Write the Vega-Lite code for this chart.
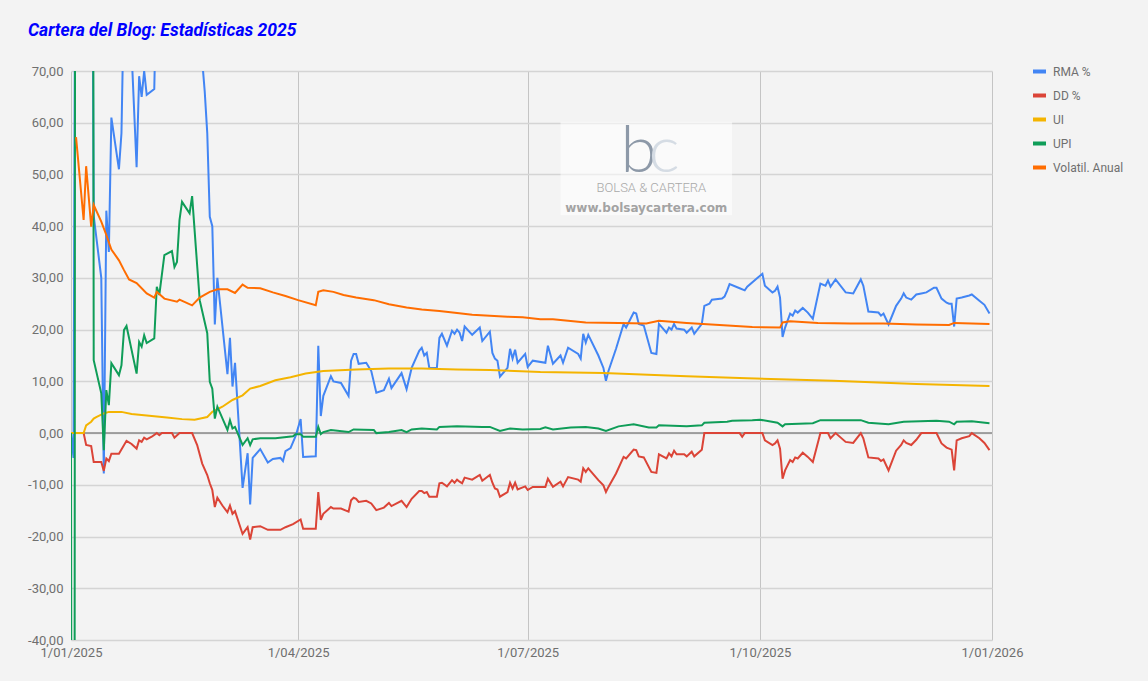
{
  "$schema": "https://vega.github.io/schema/vega-lite/v6.json",
  "description": "Cartera del Blog: Estadísticas 2025",
  "width": 921,
  "height": 569,
  "autosize": "none",
  "padding": {"left": 71, "top": 71, "right": 156, "bottom": 41},
  "background": "#f3f3f3",
  "title": {
    "text": "Cartera del Blog: Estadísticas 2025",
    "anchor": "start", "frame": "group", "dx": -43, "dy": 24, "offset": 34, "baseline": "alphabetic",
    "font": "Roboto", "fontSize": 17.5, "fontWeight": "bold", "fontStyle": "italic", "color": "#0000ff"
  },
  "config": {
    "view": {"stroke": null},
    "font": "Roboto",
    "axisX": {
      "domain": false, "ticks": false, "grid": true, "gridColor": "#c4c4c4", "gridWidth": 1,
      "labelFont": "Roboto", "labelFontSize": 13, "labelColor": "#6f6f6f", "labelPadding": 6,
      "labelFlush": false, "labelOverlap": false, "labelBound": false, "labelAlign": "center", "title": null
    },
    "axisY": {
      "domain": false, "ticks": false, "grid": true, "gridColor": "#d4d4d4", "gridWidth": 1.5,
      "labelFont": "Roboto", "labelFontSize": 13, "labelColor": "#6f6f6f", "labelPadding": 8, "title": null
    }
  },
  "layer": [
    {
      "data": {"values": [{"valor": 0}]},
      "mark": {"type": "rule", "color": "#8a8a8a", "strokeWidth": 1.5},
      "encoding": {
        "y": {"field": "valor", "type": "quantitative", "title": null}
      }
    },
    {
      "data": {"name": "series"},
      "mark": {"type": "line", "strokeWidth": 2, "clip": true},
      "encoding": {
        "x": {
          "field": "fecha", "type": "temporal", "title": null,
          "scale": {"type": "utc", "nice": false, "domain": [{"year": 2025, "month": 1, "date": 1, "utc": true}, {"year": 2026, "month": 1, "date": 1, "utc": true}]},
          "axis": {
            "values": [
              {"year": 2025, "month": 1, "date": 1, "utc": true},
              {"year": 2025, "month": 4, "date": 1, "utc": true},
              {"year": 2025, "month": 7, "date": 1, "utc": true},
              {"year": 2025, "month": 10, "date": 1, "utc": true},
              {"year": 2026, "month": 1, "date": 1, "utc": true}
            ],
            "labelExpr": "utcdate(datum.value) + '/' + (utcmonth(datum.value) < 9 ? '0' : '') + (utcmonth(datum.value) + 1) + '/' + utcyear(datum.value)"
          }
        },
        "y": {
          "field": "valor", "type": "quantitative", "title": null,
          "scale": {"domain": [-40, 70], "nice": false, "zero": false},
          "axis": {
            "values": [-40, -30, -20, -10, 0, 10, 20, 30, 40, 50, 60, 70],
            "labelExpr": "(datum.value < 0 ? '-' : '') + replace(format(abs(datum.value), '.2f'), '.', ',')"
          }
        },
        "color": {
          "field": "serie", "type": "nominal",
          "scale": {
            "domain": ["RMA %", "DD %", "UI", "UPI", "Volatil. Anual"],
            "range": ["#4285f4", "#db4437", "#f4b400", "#0f9d58", "#ff6d01"]
          },
          "legend": {
            "title": null, "orient": "none", "legendX": 960, "legendY": -8, "padding": 0,
            "symbolType": "stroke", "symbolStrokeWidth": 4, "symbolSize": 169,
            "labelFont": "Roboto", "labelFontSize": 12, "labelColor": "#6f6f6f",
            "labelOffset": 5, "rowPadding": 7
          }
        },
        "order": {"field": "fecha", "type": "temporal"}
      }
    },
    {
      "data": {"values": [{"desde": "2025-07-14", "hasta": "2025-09-20", "arriba": 60.2, "abajo": 42.1}]},
      "mark": {"type": "rect", "fill": "#ffffff", "opacity": 0.55},
      "encoding": {
        "x": {"field": "desde", "type": "temporal", "scale": {"type": "utc"}, "title": null},
        "x2": {"field": "hasta"},
        "y": {"field": "arriba", "type": "quantitative", "title": null},
        "y2": {"field": "abajo"}
      }
    },
    {
      "data": {"values": [{"fecha": "2025-08-14", "valor": 50.5, "texto": "b"}]},
      "mark": {"type": "text", "font": "Lato", "fontWeight": 300, "fontSize": 66, "color": "#8d99a8", "align": "center", "baseline": "alphabetic"},
      "encoding": {
        "x": {"field": "fecha", "type": "temporal", "scale": {"type": "utc"}, "title": null},
        "y": {"field": "valor", "type": "quantitative", "title": null},
        "text": {"field": "texto"}
      }
    },
    {
      "data": {"values": [{"fecha": "2025-08-24", "valor": 50.5, "texto": "c"}]},
      "mark": {"type": "text", "font": "Lato", "fontWeight": 300, "fontSize": 66, "color": "#d5dce4", "align": "center", "baseline": "alphabetic"},
      "encoding": {
        "x": {"field": "fecha", "type": "temporal", "scale": {"type": "utc"}, "title": null},
        "y": {"field": "valor", "type": "quantitative", "title": null},
        "text": {"field": "texto"}
      }
    },
    {
      "data": {"values": [{"fecha": "2025-08-19", "valor": 46.6, "texto": "BOLSA & CARTERA"}]},
      "mark": {"type": "text", "font": "Roboto", "fontWeight": 300, "fontSize": 13, "color": "#a9a9a9", "align": "center", "baseline": "alphabetic"},
      "encoding": {
        "x": {"field": "fecha", "type": "temporal", "scale": {"type": "utc"}, "title": null},
        "y": {"field": "valor", "type": "quantitative", "title": null},
        "text": {"field": "texto"}
      }
    },
    {
      "data": {"values": [{"fecha": "2025-08-17", "valor": 42.8, "texto": "www.bolsaycartera.com"}]},
      "mark": {"type": "text", "font": "DejaVu Sans", "fontWeight": "bold", "fontSize": 12, "color": "#a3a3a3", "align": "center", "baseline": "alphabetic"},
      "encoding": {
        "x": {"field": "fecha", "type": "temporal", "scale": {"type": "utc"}, "title": null},
        "y": {"field": "valor", "type": "quantitative", "title": null},
        "text": {"field": "texto"}
      }
    }
  ],
  "datasets": {
    "series": [
      {"fecha": "2025-01-01", "serie": "RMA %", "valor": 0},
      {"fecha": "2025-01-02", "serie": "RMA %", "valor": -4.8},
      {"fecha": "2025-01-03", "serie": "RMA %", "valor": 150},
      {"fecha": "2025-01-09", "serie": "RMA %", "valor": 150},
      {"fecha": "2025-01-10", "serie": "RMA %", "valor": 42},
      {"fecha": "2025-01-13", "serie": "RMA %", "valor": 30},
      {"fecha": "2025-01-14", "serie": "RMA %", "valor": -7.8},
      {"fecha": "2025-01-15", "serie": "RMA %", "valor": 43},
      {"fecha": "2025-01-16", "serie": "RMA %", "valor": 35},
      {"fecha": "2025-01-17", "serie": "RMA %", "valor": 61},
      {"fecha": "2025-01-20", "serie": "RMA %", "valor": 51},
      {"fecha": "2025-01-21", "serie": "RMA %", "valor": 58},
      {"fecha": "2025-01-22", "serie": "RMA %", "valor": 85},
      {"fecha": "2025-01-24", "serie": "RMA %", "valor": 85},
      {"fecha": "2025-01-27", "serie": "RMA %", "valor": 51.4},
      {"fecha": "2025-01-28", "serie": "RMA %", "valor": 69},
      {"fecha": "2025-01-29", "serie": "RMA %", "valor": 65},
      {"fecha": "2025-01-30", "serie": "RMA %", "valor": 70},
      {"fecha": "2025-01-31", "serie": "RMA %", "valor": 65.4},
      {"fecha": "2025-02-03", "serie": "RMA %", "valor": 66.5},
      {"fecha": "2025-02-04", "serie": "RMA %", "valor": 90},
      {"fecha": "2025-02-21", "serie": "RMA %", "valor": 90},
      {"fecha": "2025-02-22", "serie": "RMA %", "valor": 72},
      {"fecha": "2025-02-23", "serie": "RMA %", "valor": 66},
      {"fecha": "2025-02-24", "serie": "RMA %", "valor": 58},
      {"fecha": "2025-02-25", "serie": "RMA %", "valor": 41.8},
      {"fecha": "2025-02-26", "serie": "RMA %", "valor": 40},
      {"fecha": "2025-02-27", "serie": "RMA %", "valor": 21},
      {"fecha": "2025-02-28", "serie": "RMA %", "valor": 30},
      {"fecha": "2025-03-04", "serie": "RMA %", "valor": 11.4},
      {"fecha": "2025-03-05", "serie": "RMA %", "valor": 18.4},
      {"fecha": "2025-03-06", "serie": "RMA %", "valor": 9},
      {"fecha": "2025-03-07", "serie": "RMA %", "valor": 13.6},
      {"fecha": "2025-03-10", "serie": "RMA %", "valor": -10.6},
      {"fecha": "2025-03-12", "serie": "RMA %", "valor": -3.9},
      {"fecha": "2025-03-13", "serie": "RMA %", "valor": -13.8},
      {"fecha": "2025-03-14", "serie": "RMA %", "valor": -4.8},
      {"fecha": "2025-03-17", "serie": "RMA %", "valor": -3.1},
      {"fecha": "2025-03-20", "serie": "RMA %", "valor": -5.7},
      {"fecha": "2025-03-22", "serie": "RMA %", "valor": -5},
      {"fecha": "2025-03-25", "serie": "RMA %", "valor": -4.8},
      {"fecha": "2025-03-26", "serie": "RMA %", "valor": -5.4},
      {"fecha": "2025-03-27", "serie": "RMA %", "valor": -3.5},
      {"fecha": "2025-03-29", "serie": "RMA %", "valor": -2.9},
      {"fecha": "2025-03-31", "serie": "RMA %", "valor": -0.6},
      {"fecha": "2025-04-02", "serie": "RMA %", "valor": 2.7},
      {"fecha": "2025-04-03", "serie": "RMA %", "valor": -4.6},
      {"fecha": "2025-04-08", "serie": "RMA %", "valor": -4.5},
      {"fecha": "2025-04-09", "serie": "RMA %", "valor": 16.9},
      {"fecha": "2025-04-10", "serie": "RMA %", "valor": 3.3},
      {"fecha": "2025-04-11", "serie": "RMA %", "valor": 7.2},
      {"fecha": "2025-04-14", "serie": "RMA %", "valor": 11},
      {"fecha": "2025-04-15", "serie": "RMA %", "valor": 10},
      {"fecha": "2025-04-18", "serie": "RMA %", "valor": 9.7},
      {"fecha": "2025-04-21", "serie": "RMA %", "valor": 7.2},
      {"fecha": "2025-04-22", "serie": "RMA %", "valor": 14},
      {"fecha": "2025-04-23", "serie": "RMA %", "valor": 15.3},
      {"fecha": "2025-04-24", "serie": "RMA %", "valor": 15.3},
      {"fecha": "2025-04-25", "serie": "RMA %", "valor": 13.4},
      {"fecha": "2025-04-28", "serie": "RMA %", "valor": 13.6},
      {"fecha": "2025-04-30", "serie": "RMA %", "valor": 12},
      {"fecha": "2025-05-02", "serie": "RMA %", "valor": 7.8},
      {"fecha": "2025-05-05", "serie": "RMA %", "valor": 8.3},
      {"fecha": "2025-05-07", "serie": "RMA %", "valor": 10.5},
      {"fecha": "2025-05-08", "serie": "RMA %", "valor": 8.7},
      {"fecha": "2025-05-12", "serie": "RMA %", "valor": 11.6},
      {"fecha": "2025-05-14", "serie": "RMA %", "valor": 8.5},
      {"fecha": "2025-05-16", "serie": "RMA %", "valor": 12.6},
      {"fecha": "2025-05-19", "serie": "RMA %", "valor": 15.9},
      {"fecha": "2025-05-20", "serie": "RMA %", "valor": 16.5},
      {"fecha": "2025-05-21", "serie": "RMA %", "valor": 15},
      {"fecha": "2025-05-22", "serie": "RMA %", "valor": 15.5},
      {"fecha": "2025-05-23", "serie": "RMA %", "valor": 12.6},
      {"fecha": "2025-05-26", "serie": "RMA %", "valor": 12.6},
      {"fecha": "2025-05-27", "serie": "RMA %", "valor": 18.4},
      {"fecha": "2025-05-28", "serie": "RMA %", "valor": 19.2},
      {"fecha": "2025-05-30", "serie": "RMA %", "valor": 16.9},
      {"fecha": "2025-06-01", "serie": "RMA %", "valor": 19.8},
      {"fecha": "2025-06-02", "serie": "RMA %", "valor": 19.2},
      {"fecha": "2025-06-03", "serie": "RMA %", "valor": 20},
      {"fecha": "2025-06-04", "serie": "RMA %", "valor": 19.4},
      {"fecha": "2025-06-05", "serie": "RMA %", "valor": 17.8},
      {"fecha": "2025-06-06", "serie": "RMA %", "valor": 20.6},
      {"fecha": "2025-06-09", "serie": "RMA %", "valor": 19},
      {"fecha": "2025-06-12", "serie": "RMA %", "valor": 20.4},
      {"fecha": "2025-06-13", "serie": "RMA %", "valor": 17.8},
      {"fecha": "2025-06-16", "serie": "RMA %", "valor": 19.6},
      {"fecha": "2025-06-17", "serie": "RMA %", "valor": 15.5},
      {"fecha": "2025-06-18", "serie": "RMA %", "valor": 14.4},
      {"fecha": "2025-06-19", "serie": "RMA %", "valor": 14},
      {"fecha": "2025-06-20", "serie": "RMA %", "valor": 10.9},
      {"fecha": "2025-06-23", "serie": "RMA %", "valor": 12.6},
      {"fecha": "2025-06-24", "serie": "RMA %", "valor": 16.3},
      {"fecha": "2025-06-25", "serie": "RMA %", "valor": 14.4},
      {"fecha": "2025-06-26", "serie": "RMA %", "valor": 16.1},
      {"fecha": "2025-06-27", "serie": "RMA %", "valor": 13.6},
      {"fecha": "2025-06-30", "serie": "RMA %", "valor": 15.3},
      {"fecha": "2025-07-01", "serie": "RMA %", "valor": 12.8},
      {"fecha": "2025-07-03", "serie": "RMA %", "valor": 14},
      {"fecha": "2025-07-08", "serie": "RMA %", "valor": 13.6},
      {"fecha": "2025-07-09", "serie": "RMA %", "valor": 16.9},
      {"fecha": "2025-07-11", "serie": "RMA %", "valor": 13.4},
      {"fecha": "2025-07-14", "serie": "RMA %", "valor": 15},
      {"fecha": "2025-07-15", "serie": "RMA %", "valor": 13.6},
      {"fecha": "2025-07-17", "serie": "RMA %", "valor": 16.5},
      {"fecha": "2025-07-21", "serie": "RMA %", "valor": 15.3},
      {"fecha": "2025-07-22", "serie": "RMA %", "valor": 14.4},
      {"fecha": "2025-07-23", "serie": "RMA %", "valor": 19.2},
      {"fecha": "2025-07-24", "serie": "RMA %", "valor": 17.5},
      {"fecha": "2025-07-25", "serie": "RMA %", "valor": 19},
      {"fecha": "2025-07-29", "serie": "RMA %", "valor": 15},
      {"fecha": "2025-07-31", "serie": "RMA %", "valor": 12.6},
      {"fecha": "2025-08-01", "serie": "RMA %", "valor": 10.1},
      {"fecha": "2025-08-02", "serie": "RMA %", "valor": 12},
      {"fecha": "2025-08-05", "serie": "RMA %", "valor": 16.3},
      {"fecha": "2025-08-08", "serie": "RMA %", "valor": 21.1},
      {"fecha": "2025-08-09", "serie": "RMA %", "valor": 20.4},
      {"fecha": "2025-08-12", "serie": "RMA %", "valor": 23.3},
      {"fecha": "2025-08-13", "serie": "RMA %", "valor": 23.1},
      {"fecha": "2025-08-14", "serie": "RMA %", "valor": 21.1},
      {"fecha": "2025-08-16", "serie": "RMA %", "valor": 20.8},
      {"fecha": "2025-08-19", "serie": "RMA %", "valor": 15.5},
      {"fecha": "2025-08-21", "serie": "RMA %", "valor": 15.3},
      {"fecha": "2025-08-22", "serie": "RMA %", "valor": 21.1},
      {"fecha": "2025-08-25", "serie": "RMA %", "valor": 19.4},
      {"fecha": "2025-08-26", "serie": "RMA %", "valor": 20.4},
      {"fecha": "2025-08-27", "serie": "RMA %", "valor": 20},
      {"fecha": "2025-08-28", "serie": "RMA %", "valor": 21.1},
      {"fecha": "2025-08-29", "serie": "RMA %", "valor": 20.2},
      {"fecha": "2025-09-01", "serie": "RMA %", "valor": 20},
      {"fecha": "2025-09-02", "serie": "RMA %", "valor": 19.4},
      {"fecha": "2025-09-04", "serie": "RMA %", "valor": 20.4},
      {"fecha": "2025-09-05", "serie": "RMA %", "valor": 19.2},
      {"fecha": "2025-09-08", "serie": "RMA %", "valor": 21.1},
      {"fecha": "2025-09-09", "serie": "RMA %", "valor": 24.6},
      {"fecha": "2025-09-11", "serie": "RMA %", "valor": 25},
      {"fecha": "2025-09-12", "serie": "RMA %", "valor": 25.8},
      {"fecha": "2025-09-16", "serie": "RMA %", "valor": 26},
      {"fecha": "2025-09-17", "serie": "RMA %", "valor": 26.4},
      {"fecha": "2025-09-18", "serie": "RMA %", "valor": 27.5},
      {"fecha": "2025-09-19", "serie": "RMA %", "valor": 28.8},
      {"fecha": "2025-09-23", "serie": "RMA %", "valor": 28},
      {"fecha": "2025-09-25", "serie": "RMA %", "valor": 27.6},
      {"fecha": "2025-09-26", "serie": "RMA %", "valor": 28.3},
      {"fecha": "2025-09-30", "serie": "RMA %", "valor": 30},
      {"fecha": "2025-10-02", "serie": "RMA %", "valor": 30.8},
      {"fecha": "2025-10-03", "serie": "RMA %", "valor": 28.5},
      {"fecha": "2025-10-06", "serie": "RMA %", "valor": 27.2},
      {"fecha": "2025-10-07", "serie": "RMA %", "valor": 27.5},
      {"fecha": "2025-10-08", "serie": "RMA %", "valor": 28.3},
      {"fecha": "2025-10-09", "serie": "RMA %", "valor": 26.2},
      {"fecha": "2025-10-10", "serie": "RMA %", "valor": 18.6},
      {"fecha": "2025-10-11", "serie": "RMA %", "valor": 20.4},
      {"fecha": "2025-10-13", "serie": "RMA %", "valor": 23.1},
      {"fecha": "2025-10-14", "serie": "RMA %", "valor": 22.7},
      {"fecha": "2025-10-15", "serie": "RMA %", "valor": 23.7},
      {"fecha": "2025-10-16", "serie": "RMA %", "valor": 23.3},
      {"fecha": "2025-10-18", "serie": "RMA %", "valor": 24.2},
      {"fecha": "2025-10-20", "serie": "RMA %", "valor": 23.3},
      {"fecha": "2025-10-22", "serie": "RMA %", "valor": 22.1},
      {"fecha": "2025-10-25", "serie": "RMA %", "valor": 28.9},
      {"fecha": "2025-10-27", "serie": "RMA %", "valor": 28.5},
      {"fecha": "2025-10-28", "serie": "RMA %", "valor": 29.5},
      {"fecha": "2025-10-29", "serie": "RMA %", "valor": 28.3},
      {"fecha": "2025-10-31", "serie": "RMA %", "valor": 29.7},
      {"fecha": "2025-11-04", "serie": "RMA %", "valor": 27.2},
      {"fecha": "2025-11-07", "serie": "RMA %", "valor": 27},
      {"fecha": "2025-11-10", "serie": "RMA %", "valor": 29.7},
      {"fecha": "2025-11-11", "serie": "RMA %", "valor": 28.5},
      {"fecha": "2025-11-13", "serie": "RMA %", "valor": 23.5},
      {"fecha": "2025-11-17", "serie": "RMA %", "valor": 23.3},
      {"fecha": "2025-11-18", "serie": "RMA %", "valor": 22.7},
      {"fecha": "2025-11-19", "serie": "RMA %", "valor": 23.1},
      {"fecha": "2025-11-21", "serie": "RMA %", "valor": 21},
      {"fecha": "2025-11-24", "serie": "RMA %", "valor": 24.6},
      {"fecha": "2025-11-26", "serie": "RMA %", "valor": 26},
      {"fecha": "2025-11-27", "serie": "RMA %", "valor": 27},
      {"fecha": "2025-11-28", "serie": "RMA %", "valor": 26.2},
      {"fecha": "2025-11-30", "serie": "RMA %", "valor": 25.8},
      {"fecha": "2025-12-02", "serie": "RMA %", "valor": 26.8},
      {"fecha": "2025-12-04", "serie": "RMA %", "valor": 27},
      {"fecha": "2025-12-06", "serie": "RMA %", "valor": 27.2},
      {"fecha": "2025-12-09", "serie": "RMA %", "valor": 28.1},
      {"fecha": "2025-12-10", "serie": "RMA %", "valor": 28.1},
      {"fecha": "2025-12-12", "serie": "RMA %", "valor": 26},
      {"fecha": "2025-12-14", "serie": "RMA %", "valor": 25.2},
      {"fecha": "2025-12-15", "serie": "RMA %", "valor": 25},
      {"fecha": "2025-12-16", "serie": "RMA %", "valor": 25},
      {"fecha": "2025-12-17", "serie": "RMA %", "valor": 20.6},
      {"fecha": "2025-12-18", "serie": "RMA %", "valor": 26},
      {"fecha": "2025-12-20", "serie": "RMA %", "valor": 26.2},
      {"fecha": "2025-12-23", "serie": "RMA %", "valor": 26.6},
      {"fecha": "2025-12-24", "serie": "RMA %", "valor": 26.8},
      {"fecha": "2025-12-27", "serie": "RMA %", "valor": 25.6},
      {"fecha": "2025-12-29", "serie": "RMA %", "valor": 24.8},
      {"fecha": "2025-12-31", "serie": "RMA %", "valor": 23.1},

      {"fecha": "2025-01-01", "serie": "DD %", "valor": 0},
      {"fecha": "2025-01-06", "serie": "DD %", "valor": 0},
      {"fecha": "2025-01-07", "serie": "DD %", "valor": -2.3},
      {"fecha": "2025-01-09", "serie": "DD %", "valor": -2.5},
      {"fecha": "2025-01-10", "serie": "DD %", "valor": -5.6},
      {"fecha": "2025-01-13", "serie": "DD %", "valor": -5.6},
      {"fecha": "2025-01-14", "serie": "DD %", "valor": -7.3},
      {"fecha": "2025-01-15", "serie": "DD %", "valor": -4.9},
      {"fecha": "2025-01-16", "serie": "DD %", "valor": -5.4},
      {"fecha": "2025-01-17", "serie": "DD %", "valor": -4},
      {"fecha": "2025-01-20", "serie": "DD %", "valor": -4},
      {"fecha": "2025-01-23", "serie": "DD %", "valor": -1.5},
      {"fecha": "2025-01-25", "serie": "DD %", "valor": -2.1},
      {"fecha": "2025-01-27", "serie": "DD %", "valor": -3},
      {"fecha": "2025-01-28", "serie": "DD %", "valor": -1.4},
      {"fecha": "2025-01-29", "serie": "DD %", "valor": -1.7},
      {"fecha": "2025-01-30", "serie": "DD %", "valor": -0.9},
      {"fecha": "2025-01-31", "serie": "DD %", "valor": -1.2},
      {"fecha": "2025-02-02", "serie": "DD %", "valor": -0.7},
      {"fecha": "2025-02-04", "serie": "DD %", "valor": 0},
      {"fecha": "2025-02-05", "serie": "DD %", "valor": -0.4},
      {"fecha": "2025-02-06", "serie": "DD %", "valor": 0},
      {"fecha": "2025-02-10", "serie": "DD %", "valor": 0},
      {"fecha": "2025-02-11", "serie": "DD %", "valor": -0.9},
      {"fecha": "2025-02-13", "serie": "DD %", "valor": 0},
      {"fecha": "2025-02-18", "serie": "DD %", "valor": 0},
      {"fecha": "2025-02-20", "serie": "DD %", "valor": -2.3},
      {"fecha": "2025-02-22", "serie": "DD %", "valor": -5.9},
      {"fecha": "2025-02-24", "serie": "DD %", "valor": -8.1},
      {"fecha": "2025-02-25", "serie": "DD %", "valor": -9.7},
      {"fecha": "2025-02-26", "serie": "DD %", "valor": -11},
      {"fecha": "2025-02-27", "serie": "DD %", "valor": -14.3},
      {"fecha": "2025-02-28", "serie": "DD %", "valor": -12.5},
      {"fecha": "2025-03-02", "serie": "DD %", "valor": -14},
      {"fecha": "2025-03-04", "serie": "DD %", "valor": -15.3},
      {"fecha": "2025-03-05", "serie": "DD %", "valor": -14},
      {"fecha": "2025-03-06", "serie": "DD %", "valor": -15.6},
      {"fecha": "2025-03-07", "serie": "DD %", "valor": -15.1},
      {"fecha": "2025-03-10", "serie": "DD %", "valor": -19.5},
      {"fecha": "2025-03-12", "serie": "DD %", "valor": -18.2},
      {"fecha": "2025-03-13", "serie": "DD %", "valor": -20.6},
      {"fecha": "2025-03-14", "serie": "DD %", "valor": -18.2},
      {"fecha": "2025-03-17", "serie": "DD %", "valor": -18},
      {"fecha": "2025-03-20", "serie": "DD %", "valor": -18.7},
      {"fecha": "2025-03-25", "serie": "DD %", "valor": -18.7},
      {"fecha": "2025-03-27", "serie": "DD %", "valor": -18.2},
      {"fecha": "2025-03-30", "serie": "DD %", "valor": -17.6},
      {"fecha": "2025-04-02", "serie": "DD %", "valor": -16.7},
      {"fecha": "2025-04-03", "serie": "DD %", "valor": -18.5},
      {"fecha": "2025-04-08", "serie": "DD %", "valor": -18.5},
      {"fecha": "2025-04-09", "serie": "DD %", "valor": -11.4},
      {"fecha": "2025-04-10", "serie": "DD %", "valor": -16.8},
      {"fecha": "2025-04-11", "serie": "DD %", "valor": -15.6},
      {"fecha": "2025-04-14", "serie": "DD %", "valor": -14.3},
      {"fecha": "2025-04-15", "serie": "DD %", "valor": -14.6},
      {"fecha": "2025-04-18", "serie": "DD %", "valor": -14.6},
      {"fecha": "2025-04-21", "serie": "DD %", "valor": -15.2},
      {"fecha": "2025-04-22", "serie": "DD %", "valor": -13},
      {"fecha": "2025-04-23", "serie": "DD %", "valor": -12.5},
      {"fecha": "2025-04-24", "serie": "DD %", "valor": -12.7},
      {"fecha": "2025-04-25", "serie": "DD %", "valor": -13.3},
      {"fecha": "2025-04-28", "serie": "DD %", "valor": -13.1},
      {"fecha": "2025-04-30", "serie": "DD %", "valor": -13.6},
      {"fecha": "2025-05-02", "serie": "DD %", "valor": -14.9},
      {"fecha": "2025-05-05", "serie": "DD %", "valor": -14.4},
      {"fecha": "2025-05-07", "serie": "DD %", "valor": -13.5},
      {"fecha": "2025-05-08", "serie": "DD %", "valor": -14.1},
      {"fecha": "2025-05-12", "serie": "DD %", "valor": -13.1},
      {"fecha": "2025-05-14", "serie": "DD %", "valor": -14.3},
      {"fecha": "2025-05-16", "serie": "DD %", "valor": -12.7},
      {"fecha": "2025-05-19", "serie": "DD %", "valor": -11.2},
      {"fecha": "2025-05-20", "serie": "DD %", "valor": -11.2},
      {"fecha": "2025-05-21", "serie": "DD %", "valor": -11.6},
      {"fecha": "2025-05-22", "serie": "DD %", "valor": -11.4},
      {"fecha": "2025-05-23", "serie": "DD %", "valor": -12.3},
      {"fecha": "2025-05-26", "serie": "DD %", "valor": -12.3},
      {"fecha": "2025-05-27", "serie": "DD %", "valor": -9.7},
      {"fecha": "2025-05-28", "serie": "DD %", "valor": -9.6},
      {"fecha": "2025-05-30", "serie": "DD %", "valor": -10.3},
      {"fecha": "2025-06-01", "serie": "DD %", "valor": -9.1},
      {"fecha": "2025-06-02", "serie": "DD %", "valor": -9.6},
      {"fecha": "2025-06-03", "serie": "DD %", "valor": -9},
      {"fecha": "2025-06-04", "serie": "DD %", "valor": -9.4},
      {"fecha": "2025-06-05", "serie": "DD %", "valor": -9.7},
      {"fecha": "2025-06-06", "serie": "DD %", "valor": -8.6},
      {"fecha": "2025-06-09", "serie": "DD %", "valor": -9},
      {"fecha": "2025-06-12", "serie": "DD %", "valor": -8.1},
      {"fecha": "2025-06-13", "serie": "DD %", "valor": -9.2},
      {"fecha": "2025-06-16", "serie": "DD %", "valor": -8.1},
      {"fecha": "2025-06-17", "serie": "DD %", "valor": -9.6},
      {"fecha": "2025-06-18", "serie": "DD %", "valor": -10.7},
      {"fecha": "2025-06-19", "serie": "DD %", "valor": -10.9},
      {"fecha": "2025-06-20", "serie": "DD %", "valor": -12.3},
      {"fecha": "2025-06-23", "serie": "DD %", "valor": -11.4},
      {"fecha": "2025-06-24", "serie": "DD %", "valor": -9.6},
      {"fecha": "2025-06-25", "serie": "DD %", "valor": -10.7},
      {"fecha": "2025-06-26", "serie": "DD %", "valor": -9.6},
      {"fecha": "2025-06-27", "serie": "DD %", "valor": -10.9},
      {"fecha": "2025-06-30", "serie": "DD %", "valor": -10.3},
      {"fecha": "2025-07-01", "serie": "DD %", "valor": -11},
      {"fecha": "2025-07-03", "serie": "DD %", "valor": -10.4},
      {"fecha": "2025-07-08", "serie": "DD %", "valor": -10.4},
      {"fecha": "2025-07-09", "serie": "DD %", "valor": -8.8},
      {"fecha": "2025-07-11", "serie": "DD %", "valor": -10.4},
      {"fecha": "2025-07-14", "serie": "DD %", "valor": -9.4},
      {"fecha": "2025-07-15", "serie": "DD %", "valor": -10.3},
      {"fecha": "2025-07-17", "serie": "DD %", "valor": -8.5},
      {"fecha": "2025-07-21", "serie": "DD %", "valor": -9},
      {"fecha": "2025-07-22", "serie": "DD %", "valor": -9.4},
      {"fecha": "2025-07-23", "serie": "DD %", "valor": -6.8},
      {"fecha": "2025-07-24", "serie": "DD %", "valor": -7.5},
      {"fecha": "2025-07-25", "serie": "DD %", "valor": -6.8},
      {"fecha": "2025-07-29", "serie": "DD %", "valor": -9.1},
      {"fecha": "2025-07-31", "serie": "DD %", "valor": -10.1},
      {"fecha": "2025-08-01", "serie": "DD %", "valor": -11.4},
      {"fecha": "2025-08-02", "serie": "DD %", "valor": -10.4},
      {"fecha": "2025-08-05", "serie": "DD %", "valor": -7.8},
      {"fecha": "2025-08-08", "serie": "DD %", "valor": -4.6},
      {"fecha": "2025-08-09", "serie": "DD %", "valor": -4.9},
      {"fecha": "2025-08-12", "serie": "DD %", "valor": -3.2},
      {"fecha": "2025-08-13", "serie": "DD %", "valor": -3.3},
      {"fecha": "2025-08-14", "serie": "DD %", "valor": -4.5},
      {"fecha": "2025-08-16", "serie": "DD %", "valor": -4.7},
      {"fecha": "2025-08-19", "serie": "DD %", "valor": -7.5},
      {"fecha": "2025-08-21", "serie": "DD %", "valor": -7.7},
      {"fecha": "2025-08-22", "serie": "DD %", "valor": -4.1},
      {"fecha": "2025-08-25", "serie": "DD %", "valor": -4.9},
      {"fecha": "2025-08-26", "serie": "DD %", "valor": -3.9},
      {"fecha": "2025-08-27", "serie": "DD %", "valor": -4.5},
      {"fecha": "2025-08-28", "serie": "DD %", "valor": -3.4},
      {"fecha": "2025-08-29", "serie": "DD %", "valor": -4.1},
      {"fecha": "2025-09-01", "serie": "DD %", "valor": -4.1},
      {"fecha": "2025-09-02", "serie": "DD %", "valor": -4.5},
      {"fecha": "2025-09-04", "serie": "DD %", "valor": -3.6},
      {"fecha": "2025-09-05", "serie": "DD %", "valor": -4.5},
      {"fecha": "2025-09-08", "serie": "DD %", "valor": -3.2},
      {"fecha": "2025-09-09", "serie": "DD %", "valor": 0},
      {"fecha": "2025-09-15", "serie": "DD %", "valor": 0},
      {"fecha": "2025-09-23", "serie": "DD %", "valor": 0},
      {"fecha": "2025-09-24", "serie": "DD %", "valor": -0.7},
      {"fecha": "2025-09-25", "serie": "DD %", "valor": 0},
      {"fecha": "2025-10-02", "serie": "DD %", "valor": 0},
      {"fecha": "2025-10-03", "serie": "DD %", "valor": -1.4},
      {"fecha": "2025-10-06", "serie": "DD %", "valor": -2.3},
      {"fecha": "2025-10-07", "serie": "DD %", "valor": -2},
      {"fecha": "2025-10-08", "serie": "DD %", "valor": -1.4},
      {"fecha": "2025-10-09", "serie": "DD %", "valor": -3},
      {"fecha": "2025-10-10", "serie": "DD %", "valor": -8.8},
      {"fecha": "2025-10-11", "serie": "DD %", "valor": -7.2},
      {"fecha": "2025-10-13", "serie": "DD %", "valor": -5.2},
      {"fecha": "2025-10-14", "serie": "DD %", "valor": -5.6},
      {"fecha": "2025-10-15", "serie": "DD %", "valor": -4.7},
      {"fecha": "2025-10-16", "serie": "DD %", "valor": -4.9},
      {"fecha": "2025-10-18", "serie": "DD %", "valor": -3.8},
      {"fecha": "2025-10-20", "serie": "DD %", "valor": -4.6},
      {"fecha": "2025-10-22", "serie": "DD %", "valor": -5.6},
      {"fecha": "2025-10-25", "serie": "DD %", "valor": 0},
      {"fecha": "2025-10-28", "serie": "DD %", "valor": 0},
      {"fecha": "2025-10-29", "serie": "DD %", "valor": -1},
      {"fecha": "2025-10-31", "serie": "DD %", "valor": 0},
      {"fecha": "2025-11-04", "serie": "DD %", "valor": -1.7},
      {"fecha": "2025-11-07", "serie": "DD %", "valor": -1.9},
      {"fecha": "2025-11-10", "serie": "DD %", "valor": 0},
      {"fecha": "2025-11-11", "serie": "DD %", "valor": -1},
      {"fecha": "2025-11-13", "serie": "DD %", "valor": -4.7},
      {"fecha": "2025-11-17", "serie": "DD %", "valor": -4.9},
      {"fecha": "2025-11-18", "serie": "DD %", "valor": -5.4},
      {"fecha": "2025-11-19", "serie": "DD %", "valor": -5.1},
      {"fecha": "2025-11-21", "serie": "DD %", "valor": -7.2},
      {"fecha": "2025-11-24", "serie": "DD %", "valor": -3.4},
      {"fecha": "2025-11-26", "serie": "DD %", "valor": -2.3},
      {"fecha": "2025-11-27", "serie": "DD %", "valor": -1.4},
      {"fecha": "2025-11-28", "serie": "DD %", "valor": -1.9},
      {"fecha": "2025-11-30", "serie": "DD %", "valor": -2.3},
      {"fecha": "2025-12-02", "serie": "DD %", "valor": -1.3},
      {"fecha": "2025-12-04", "serie": "DD %", "valor": 0},
      {"fecha": "2025-12-10", "serie": "DD %", "valor": 0},
      {"fecha": "2025-12-12", "serie": "DD %", "valor": -2},
      {"fecha": "2025-12-14", "serie": "DD %", "valor": -2.8},
      {"fecha": "2025-12-15", "serie": "DD %", "valor": -3},
      {"fecha": "2025-12-16", "serie": "DD %", "valor": -3.2},
      {"fecha": "2025-12-17", "serie": "DD %", "valor": -7.2},
      {"fecha": "2025-12-18", "serie": "DD %", "valor": -1.4},
      {"fecha": "2025-12-20", "serie": "DD %", "valor": -1},
      {"fecha": "2025-12-23", "serie": "DD %", "valor": -0.6},
      {"fecha": "2025-12-24", "serie": "DD %", "valor": 0},
      {"fecha": "2025-12-27", "serie": "DD %", "valor": -1},
      {"fecha": "2025-12-29", "serie": "DD %", "valor": -1.9},
      {"fecha": "2025-12-31", "serie": "DD %", "valor": -3.3},

      {"fecha": "2025-01-01", "serie": "UI", "valor": 0},
      {"fecha": "2025-01-06", "serie": "UI", "valor": 0},
      {"fecha": "2025-01-07", "serie": "UI", "valor": 1.5},
      {"fecha": "2025-01-09", "serie": "UI", "valor": 2.2},
      {"fecha": "2025-01-10", "serie": "UI", "valor": 2.8},
      {"fecha": "2025-01-11", "serie": "UI", "valor": 3.1},
      {"fecha": "2025-01-14", "serie": "UI", "valor": 3.8},
      {"fecha": "2025-01-16", "serie": "UI", "valor": 4.1},
      {"fecha": "2025-01-21", "serie": "UI", "valor": 4.1},
      {"fecha": "2025-01-25", "serie": "UI", "valor": 3.7},
      {"fecha": "2025-01-31", "serie": "UI", "valor": 3.4},
      {"fecha": "2025-02-08", "serie": "UI", "valor": 3},
      {"fecha": "2025-02-14", "serie": "UI", "valor": 2.7},
      {"fecha": "2025-02-19", "serie": "UI", "valor": 2.6},
      {"fecha": "2025-02-24", "serie": "UI", "valor": 3.1},
      {"fecha": "2025-02-26", "serie": "UI", "valor": 4.1},
      {"fecha": "2025-03-02", "serie": "UI", "valor": 5.1},
      {"fecha": "2025-03-06", "serie": "UI", "valor": 6.4},
      {"fecha": "2025-03-10", "serie": "UI", "valor": 7.3},
      {"fecha": "2025-03-13", "serie": "UI", "valor": 8.6},
      {"fecha": "2025-03-17", "serie": "UI", "valor": 9.1},
      {"fecha": "2025-03-23", "serie": "UI", "valor": 10.2},
      {"fecha": "2025-03-29", "serie": "UI", "valor": 10.8},
      {"fecha": "2025-04-04", "serie": "UI", "valor": 11.5},
      {"fecha": "2025-04-11", "serie": "UI", "valor": 12},
      {"fecha": "2025-04-24", "serie": "UI", "valor": 12.3},
      {"fecha": "2025-05-07", "serie": "UI", "valor": 12.5},
      {"fecha": "2025-05-20", "serie": "UI", "valor": 12.5},
      {"fecha": "2025-06-03", "serie": "UI", "valor": 12.3},
      {"fecha": "2025-06-16", "serie": "UI", "valor": 12.2},
      {"fecha": "2025-07-06", "serie": "UI", "valor": 11.8},
      {"fecha": "2025-07-31", "serie": "UI", "valor": 11.6},
      {"fecha": "2025-09-02", "serie": "UI", "valor": 11},
      {"fecha": "2025-09-26", "serie": "UI", "valor": 10.6},
      {"fecha": "2025-10-30", "serie": "UI", "valor": 10.1},
      {"fecha": "2025-12-02", "serie": "UI", "valor": 9.5},
      {"fecha": "2025-12-31", "serie": "UI", "valor": 9.1},

      {"fecha": "2025-01-01", "serie": "UPI", "valor": 0},
      {"fecha": "2025-01-02", "serie": "UPI", "valor": -400},
      {"fecha": "2025-01-03", "serie": "UPI", "valor": 400},
      {"fecha": "2025-01-09", "serie": "UPI", "valor": 400},
      {"fecha": "2025-01-10", "serie": "UPI", "valor": 14.1},
      {"fecha": "2025-01-13", "serie": "UPI", "valor": 7.7},
      {"fecha": "2025-01-14", "serie": "UPI", "valor": -3.3},
      {"fecha": "2025-01-15", "serie": "UPI", "valor": 8.3},
      {"fecha": "2025-01-16", "serie": "UPI", "valor": 5.4},
      {"fecha": "2025-01-17", "serie": "UPI", "valor": 13.5},
      {"fecha": "2025-01-20", "serie": "UPI", "valor": 11.2},
      {"fecha": "2025-01-21", "serie": "UPI", "valor": 13.1},
      {"fecha": "2025-01-22", "serie": "UPI", "valor": 19.9},
      {"fecha": "2025-01-23", "serie": "UPI", "valor": 20.7},
      {"fecha": "2025-01-27", "serie": "UPI", "valor": 11.5},
      {"fecha": "2025-01-28", "serie": "UPI", "valor": 17.6},
      {"fecha": "2025-01-29", "serie": "UPI", "valor": 16.7},
      {"fecha": "2025-01-30", "serie": "UPI", "valor": 18.9},
      {"fecha": "2025-01-31", "serie": "UPI", "valor": 17.4},
      {"fecha": "2025-02-03", "serie": "UPI", "valor": 18.3},
      {"fecha": "2025-02-04", "serie": "UPI", "valor": 28.3},
      {"fecha": "2025-02-05", "serie": "UPI", "valor": 26.7},
      {"fecha": "2025-02-07", "serie": "UPI", "valor": 34.4},
      {"fecha": "2025-02-10", "serie": "UPI", "valor": 35.2},
      {"fecha": "2025-02-11", "serie": "UPI", "valor": 32.1},
      {"fecha": "2025-02-12", "serie": "UPI", "valor": 33.1},
      {"fecha": "2025-02-13", "serie": "UPI", "valor": 41.2},
      {"fecha": "2025-02-14", "serie": "UPI", "valor": 44.7},
      {"fecha": "2025-02-17", "serie": "UPI", "valor": 42.5},
      {"fecha": "2025-02-18", "serie": "UPI", "valor": 45.8},
      {"fecha": "2025-02-21", "serie": "UPI", "valor": 25.7},
      {"fecha": "2025-02-24", "serie": "UPI", "valor": 19.3},
      {"fecha": "2025-02-25", "serie": "UPI", "valor": 9.9},
      {"fecha": "2025-02-26", "serie": "UPI", "valor": 8.6},
      {"fecha": "2025-02-27", "serie": "UPI", "valor": 2.8},
      {"fecha": "2025-02-28", "serie": "UPI", "valor": 5.1},
      {"fecha": "2025-03-04", "serie": "UPI", "valor": 0.6},
      {"fecha": "2025-03-05", "serie": "UPI", "valor": 2.5},
      {"fecha": "2025-03-06", "serie": "UPI", "valor": 0.9},
      {"fecha": "2025-03-07", "serie": "UPI", "valor": 1.2},
      {"fecha": "2025-03-10", "serie": "UPI", "valor": -2.3},
      {"fecha": "2025-03-12", "serie": "UPI", "valor": -1},
      {"fecha": "2025-03-13", "serie": "UPI", "valor": -2.3},
      {"fecha": "2025-03-14", "serie": "UPI", "valor": -1.2},
      {"fecha": "2025-03-17", "serie": "UPI", "valor": -1},
      {"fecha": "2025-03-23", "serie": "UPI", "valor": -1},
      {"fecha": "2025-03-30", "serie": "UPI", "valor": -0.6},
      {"fecha": "2025-03-31", "serie": "UPI", "valor": -0.2},
      {"fecha": "2025-04-02", "serie": "UPI", "valor": -0.2},
      {"fecha": "2025-04-03", "serie": "UPI", "valor": -0.7},
      {"fecha": "2025-04-08", "serie": "UPI", "valor": -0.7},
      {"fecha": "2025-04-09", "serie": "UPI", "valor": 1.2},
      {"fecha": "2025-04-10", "serie": "UPI", "valor": -0.2},
      {"fecha": "2025-04-11", "serie": "UPI", "valor": 0.2},
      {"fecha": "2025-04-14", "serie": "UPI", "valor": 0.6},
      {"fecha": "2025-04-21", "serie": "UPI", "valor": 0.2},
      {"fecha": "2025-04-23", "serie": "UPI", "valor": 0.7},
      {"fecha": "2025-05-01", "serie": "UPI", "valor": 0.6},
      {"fecha": "2025-05-02", "serie": "UPI", "valor": 0},
      {"fecha": "2025-05-07", "serie": "UPI", "valor": 0.2},
      {"fecha": "2025-05-12", "serie": "UPI", "valor": 0.6},
      {"fecha": "2025-05-14", "serie": "UPI", "valor": 0.2},
      {"fecha": "2025-05-16", "serie": "UPI", "valor": 0.7},
      {"fecha": "2025-05-20", "serie": "UPI", "valor": 0.9},
      {"fecha": "2025-05-26", "serie": "UPI", "valor": 0.7},
      {"fecha": "2025-05-27", "serie": "UPI", "valor": 1.2},
      {"fecha": "2025-06-03", "serie": "UPI", "valor": 1.3},
      {"fecha": "2025-06-13", "serie": "UPI", "valor": 1.2},
      {"fecha": "2025-06-16", "serie": "UPI", "valor": 1.2},
      {"fecha": "2025-06-20", "serie": "UPI", "valor": 0.4},
      {"fecha": "2025-06-24", "serie": "UPI", "valor": 0.9},
      {"fecha": "2025-06-29", "serie": "UPI", "valor": 0.7},
      {"fecha": "2025-07-06", "serie": "UPI", "valor": 0.8},
      {"fecha": "2025-07-08", "serie": "UPI", "valor": 1.1},
      {"fecha": "2025-07-11", "serie": "UPI", "valor": 0.7},
      {"fecha": "2025-07-18", "serie": "UPI", "valor": 1.1},
      {"fecha": "2025-07-24", "serie": "UPI", "valor": 1.2},
      {"fecha": "2025-07-29", "serie": "UPI", "valor": 0.9},
      {"fecha": "2025-08-01", "serie": "UPI", "valor": 0.4},
      {"fecha": "2025-08-06", "serie": "UPI", "valor": 1.3},
      {"fecha": "2025-08-12", "serie": "UPI", "valor": 1.7},
      {"fecha": "2025-08-18", "serie": "UPI", "valor": 1.1},
      {"fecha": "2025-08-21", "serie": "UPI", "valor": 1.1},
      {"fecha": "2025-08-22", "serie": "UPI", "valor": 1.5},
      {"fecha": "2025-09-02", "serie": "UPI", "valor": 1.3},
      {"fecha": "2025-09-08", "serie": "UPI", "valor": 1.5},
      {"fecha": "2025-09-09", "serie": "UPI", "valor": 2},
      {"fecha": "2025-09-18", "serie": "UPI", "valor": 2.2},
      {"fecha": "2025-09-20", "serie": "UPI", "valor": 2.4},
      {"fecha": "2025-09-28", "serie": "UPI", "valor": 2.5},
      {"fecha": "2025-10-01", "serie": "UPI", "valor": 2.6},
      {"fecha": "2025-10-08", "serie": "UPI", "valor": 2},
      {"fecha": "2025-10-10", "serie": "UPI", "valor": 1.3},
      {"fecha": "2025-10-11", "serie": "UPI", "valor": 1.7},
      {"fecha": "2025-10-22", "serie": "UPI", "valor": 1.9},
      {"fecha": "2025-10-25", "serie": "UPI", "valor": 2.5},
      {"fecha": "2025-11-10", "serie": "UPI", "valor": 2.5},
      {"fecha": "2025-11-13", "serie": "UPI", "valor": 2},
      {"fecha": "2025-11-21", "serie": "UPI", "valor": 1.7},
      {"fecha": "2025-11-27", "serie": "UPI", "valor": 2.2},
      {"fecha": "2025-12-10", "serie": "UPI", "valor": 2.4},
      {"fecha": "2025-12-15", "serie": "UPI", "valor": 2.2},
      {"fecha": "2025-12-17", "serie": "UPI", "valor": 1.7},
      {"fecha": "2025-12-18", "serie": "UPI", "valor": 2.2},
      {"fecha": "2025-12-24", "serie": "UPI", "valor": 2.3},
      {"fecha": "2025-12-31", "serie": "UPI", "valor": 1.9},

      {"fecha": "2025-01-03", "serie": "Volatil. Anual", "valor": 57.2},
      {"fecha": "2025-01-06", "serie": "Volatil. Anual", "valor": 41.2},
      {"fecha": "2025-01-07", "serie": "Volatil. Anual", "valor": 51.6},
      {"fecha": "2025-01-09", "serie": "Volatil. Anual", "valor": 39.9},
      {"fecha": "2025-01-10", "serie": "Volatil. Anual", "valor": 44.1},
      {"fecha": "2025-01-13", "serie": "Volatil. Anual", "valor": 40.9},
      {"fecha": "2025-01-15", "serie": "Volatil. Anual", "valor": 38.3},
      {"fecha": "2025-01-17", "serie": "Volatil. Anual", "valor": 35.5},
      {"fecha": "2025-01-20", "serie": "Volatil. Anual", "valor": 33.4},
      {"fecha": "2025-01-22", "serie": "Volatil. Anual", "valor": 31.5},
      {"fecha": "2025-01-24", "serie": "Volatil. Anual", "valor": 29.7},
      {"fecha": "2025-01-27", "serie": "Volatil. Anual", "valor": 29},
      {"fecha": "2025-01-31", "serie": "Volatil. Anual", "valor": 27},
      {"fecha": "2025-02-03", "serie": "Volatil. Anual", "valor": 26.2},
      {"fecha": "2025-02-04", "serie": "Volatil. Anual", "valor": 27.3},
      {"fecha": "2025-02-07", "serie": "Volatil. Anual", "valor": 26},
      {"fecha": "2025-02-12", "serie": "Volatil. Anual", "valor": 25.4},
      {"fecha": "2025-02-13", "serie": "Volatil. Anual", "valor": 25.8},
      {"fecha": "2025-02-18", "serie": "Volatil. Anual", "valor": 24.7},
      {"fecha": "2025-02-21", "serie": "Volatil. Anual", "valor": 26.2},
      {"fecha": "2025-02-25", "serie": "Volatil. Anual", "valor": 27.3},
      {"fecha": "2025-02-28", "serie": "Volatil. Anual", "valor": 27.8},
      {"fecha": "2025-03-04", "serie": "Volatil. Anual", "valor": 27.8},
      {"fecha": "2025-03-07", "serie": "Volatil. Anual", "valor": 27.1},
      {"fecha": "2025-03-10", "serie": "Volatil. Anual", "valor": 28.7},
      {"fecha": "2025-03-12", "serie": "Volatil. Anual", "valor": 28.1},
      {"fecha": "2025-03-17", "serie": "Volatil. Anual", "valor": 28},
      {"fecha": "2025-03-22", "serie": "Volatil. Anual", "valor": 27.2},
      {"fecha": "2025-03-27", "serie": "Volatil. Anual", "valor": 26.5},
      {"fecha": "2025-04-01", "serie": "Volatil. Anual", "valor": 25.7},
      {"fecha": "2025-04-08", "serie": "Volatil. Anual", "valor": 24.7},
      {"fecha": "2025-04-09", "serie": "Volatil. Anual", "valor": 27.3},
      {"fecha": "2025-04-11", "serie": "Volatil. Anual", "valor": 27.6},
      {"fecha": "2025-04-15", "serie": "Volatil. Anual", "valor": 27.3},
      {"fecha": "2025-04-19", "serie": "Volatil. Anual", "valor": 26.7},
      {"fecha": "2025-04-24", "serie": "Volatil. Anual", "valor": 26.2},
      {"fecha": "2025-05-01", "serie": "Volatil. Anual", "valor": 25.7},
      {"fecha": "2025-05-07", "serie": "Volatil. Anual", "valor": 24.9},
      {"fecha": "2025-05-14", "serie": "Volatil. Anual", "valor": 24.3},
      {"fecha": "2025-05-20", "serie": "Volatil. Anual", "valor": 23.9},
      {"fecha": "2025-05-27", "serie": "Volatil. Anual", "valor": 23.6},
      {"fecha": "2025-06-03", "serie": "Volatil. Anual", "valor": 23.2},
      {"fecha": "2025-06-09", "serie": "Volatil. Anual", "valor": 22.9},
      {"fecha": "2025-06-16", "serie": "Volatil. Anual", "valor": 22.7},
      {"fecha": "2025-06-23", "serie": "Volatil. Anual", "valor": 22.5},
      {"fecha": "2025-06-29", "serie": "Volatil. Anual", "valor": 22.4},
      {"fecha": "2025-07-06", "serie": "Volatil. Anual", "valor": 22},
      {"fecha": "2025-07-11", "serie": "Volatil. Anual", "valor": 22},
      {"fecha": "2025-07-24", "serie": "Volatil. Anual", "valor": 21.4},
      {"fecha": "2025-08-06", "serie": "Volatil. Anual", "valor": 21.3},
      {"fecha": "2025-08-17", "serie": "Volatil. Anual", "valor": 21.2},
      {"fecha": "2025-08-22", "serie": "Volatil. Anual", "valor": 21.7},
      {"fecha": "2025-09-02", "serie": "Volatil. Anual", "valor": 21.3},
      {"fecha": "2025-09-15", "serie": "Volatil. Anual", "valor": 20.9},
      {"fecha": "2025-09-28", "serie": "Volatil. Anual", "valor": 20.5},
      {"fecha": "2025-10-09", "serie": "Volatil. Anual", "valor": 20.4},
      {"fecha": "2025-10-10", "serie": "Volatil. Anual", "valor": 21.4},
      {"fecha": "2025-10-13", "serie": "Volatil. Anual", "valor": 21.6},
      {"fecha": "2025-10-24", "serie": "Volatil. Anual", "valor": 21.3},
      {"fecha": "2025-11-06", "serie": "Volatil. Anual", "valor": 21.2},
      {"fecha": "2025-11-19", "serie": "Volatil. Anual", "valor": 21.2},
      {"fecha": "2025-12-02", "serie": "Volatil. Anual", "valor": 21},
      {"fecha": "2025-12-15", "serie": "Volatil. Anual", "valor": 20.9},
      {"fecha": "2025-12-17", "serie": "Volatil. Anual", "valor": 21.3},
      {"fecha": "2025-12-31", "serie": "Volatil. Anual", "valor": 21.1}
    ]
  }
}
